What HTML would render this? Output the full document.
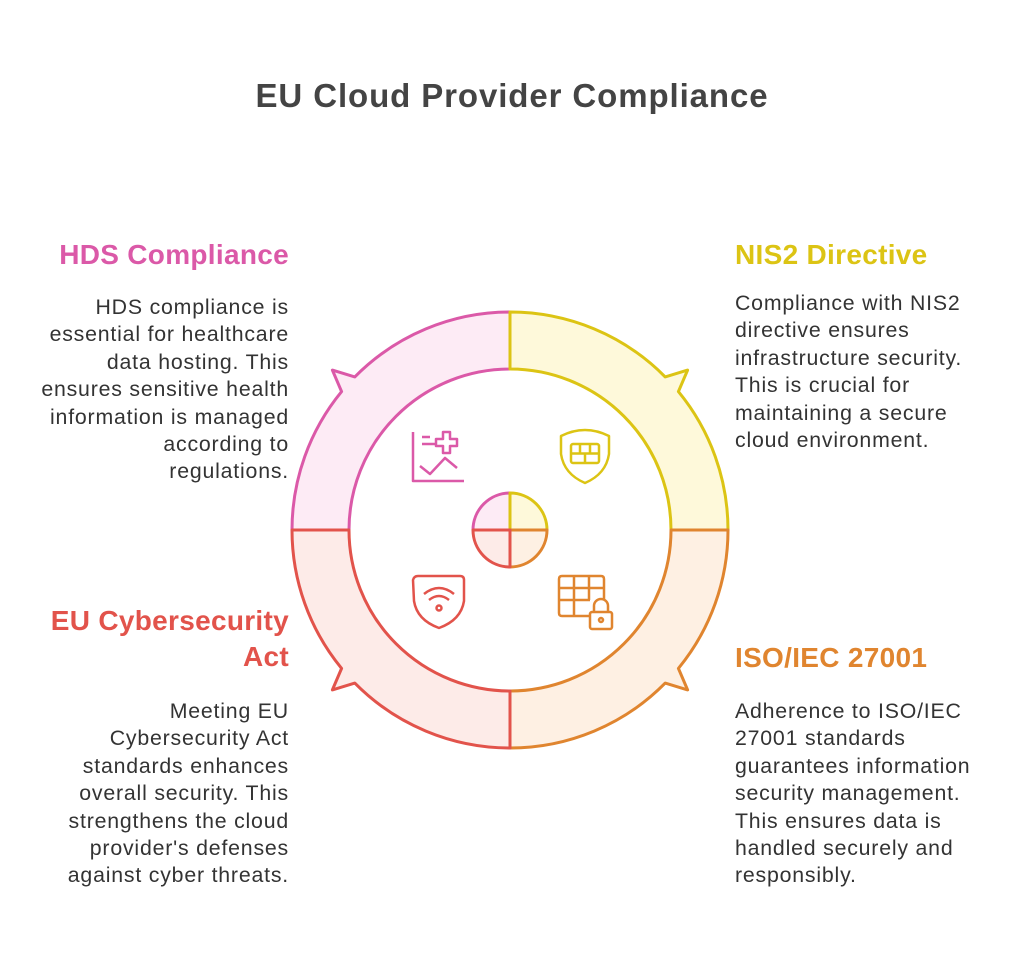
<!DOCTYPE html>
<html><head><meta charset="utf-8"><style>
html,body{margin:0;padding:0;background:#fff;}
body{width:1024px;height:969px;position:relative;overflow:hidden;font-family:"Liberation Sans",sans-serif;}
.t{position:absolute;white-space:nowrap;}
h1{position:absolute;top:77px;left:0;width:1024px;text-align:center;margin:0;font-size:33px;letter-spacing:0.9px;font-weight:bold;color:#444;}
.h{font-size:28px;letter-spacing:0.3px;font-weight:bold;line-height:36px;}
.b{font-size:21.3px;letter-spacing:0.8px;line-height:27.4px;color:#333;}
.l{right:735px;text-align:right;}
.r{left:735px;text-align:left;}
</style></head><body>
<h1>EU Cloud Provider Compliance</h1>
<div class="t h l" style="top:237px;color:#DB59A8;">HDS Compliance</div>
<div class="t b l" style="top:294px;">HDS compliance is<br>essential for healthcare<br>data hosting. This<br>ensures sensitive health<br>information is managed<br>according to<br>regulations.</div>
<div class="t h r" style="top:237px;color:#DCC414;">NIS2 Directive</div>
<div class="t b r" style="top:290px;">Compliance with NIS2<br>directive ensures<br>infrastructure security.<br>This is crucial for<br>maintaining a secure<br>cloud environment.</div>
<div class="t h l" style="top:603px;color:#E2534B;">EU Cybersecurity<br>Act</div>
<div class="t b l" style="top:698px;">Meeting EU<br>Cybersecurity Act<br>standards enhances<br>overall security. This<br>strengthens the cloud<br>provider's defenses<br>against cyber threats.</div>
<div class="t h r" style="top:640px;color:#E0852F;">ISO/IEC 27001</div>
<div class="t b r" style="top:698px;">Adherence to ISO/IEC<br>27001 standards<br>guarantees information<br>security management.<br>This ensures data is<br>handled securely and<br>responsibly.</div>
<svg width="1024" height="969" style="position:absolute;left:0;top:0" fill="none" stroke-width="3" stroke-linejoin="round">
<path d="M292,530 A218,218 0 0 1 341.6,391.6 L332.4,370.1 L354.8,376.9 A218,218 0 0 1 510,312 L510,369 A161,161 0 0 0 349,530 Z" fill="#FDEBF5" stroke="#DB59A8"/>
<path d="M510,312 A218,218 0 0 1 665.2,376.9 L687.6,370.1 L678.4,391.6 A218,218 0 0 1 728,530 L671,530 A161,161 0 0 0 510,369 Z" fill="#FEF9DA" stroke="#DCC414"/>
<path d="M728,530 A218,218 0 0 1 678.4,668.4 L687.6,689.9 L665.2,683.1 A218,218 0 0 1 510,748 L510,691 A161,161 0 0 0 671,530 Z" fill="#FEF0E3" stroke="#E0852F"/>
<path d="M510,748 A218,218 0 0 1 354.8,683.1 L332.4,689.9 L341.6,668.4 A218,218 0 0 1 292,530 L349,530 A161,161 0 0 0 510,691 Z" fill="#FDEBE8" stroke="#E2534B"/>
<path d="M473,530 A37,37 0 0 1 510,493 L510,530 Z" fill="#FDEBF5" stroke="#DB59A8"/>
<path d="M510,493 A37,37 0 0 1 547,530 L510,530 Z" fill="#FEF9DA" stroke="#DCC414"/>
<path d="M547,530 A37,37 0 0 1 510,567 L510,530 Z" fill="#FEF0E3" stroke="#E0852F"/>
<path d="M510,567 A37,37 0 0 1 473,530 L510,530 Z" fill="#FDEBE8" stroke="#E2534B"/>
<g stroke="#DB59A8" stroke-width="2.5">
<path d="M413,432 V481 H464"/><path d="M422,437 H430 M422,444 H435"/>
<path d="M443,439 V432 H450 V439 H457 V446 H450 V453 H443 V446 H436 V439 Z"/>
<path d="M420,466 L430,474 L445,458 L457,468"/>
</g>
<g stroke="#DCC414" stroke-width="2.5">
<path d="M561,436 Q585,424 609,436 V454 Q606,474 585,483 Q564,474 561,454 Z"/>
<rect x="571" y="444" width="28" height="19" rx="2"/><path d="M571,453.5 H599 M580,444 V453.5 M590,444 V453.5 M585,453.5 V463"/>
</g>
<g stroke="#E2534B" stroke-width="2.5">
<path d="M413,580 Q414,576 418,576 H460 Q464,576 464,580 V601 Q461,620 439,628 Q417,620 414,601 Z"/>
<path d="M424,594 Q439,582 454,594 M429,600 Q439,592 449,600"/><circle cx="439" cy="608" r="2.5"/>
</g>
<g stroke="#E0852F" stroke-width="2.5">
<path d="M591,616 H562 Q559,616 559,613 V579 Q559,576 562,576 H601 Q604,576 604,579 V600"/>
<path d="M559,588 H604 M559,600 H590 M574,576 V616 M589,576 V600"/>
<rect x="590" y="612" width="22" height="17" rx="2"/><path d="M594,612 V606 A7,7 0 0 1 608,606 V612"/><circle cx="601" cy="620" r="2"/>
</g>
</svg>
</body></html>
